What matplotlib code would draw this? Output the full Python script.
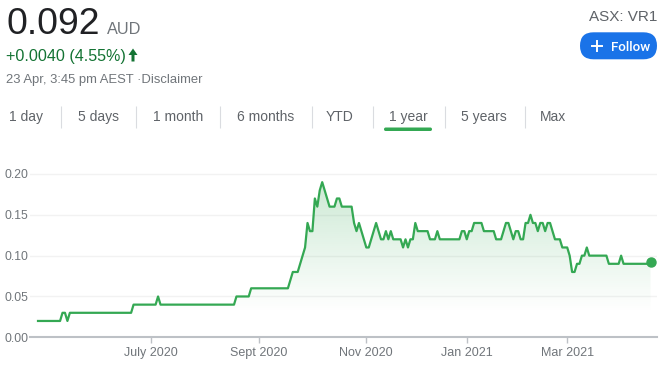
import numpy as np
import matplotlib.pyplot as plt
from matplotlib.colors import to_rgb
from matplotlib.patches import FancyBboxPatch, FancyArrow

plt.rcParams['font.family'] = ['Liberation Sans', 'DejaVu Sans']

# slotkoers per handelsdag (23 apr 2020 - 23 apr 2021)
prices = [
    # apr - jun 2020
    0.02, 0.02, 0.02, 0.02, 0.02, 0.02, 0.02, 0.02, 0.02, 0.02,
    0.03, 0.03, 0.02, 0.03,
    0.03, 0.03, 0.03, 0.03, 0.03, 0.03, 0.03, 0.03, 0.03, 0.03,
    0.03, 0.03, 0.03, 0.03, 0.03, 0.03, 0.03, 0.03, 0.03, 0.03,
    0.03, 0.03, 0.03, 0.03, 0.03,
    0.04, 0.04, 0.04, 0.04, 0.04, 0.04, 0.04, 0.04, 0.04, 0.04,
    0.05,
    # jul - aug 2020
    0.04, 0.04, 0.04, 0.04, 0.04, 0.04, 0.04, 0.04, 0.04, 0.04,
    0.04, 0.04, 0.04, 0.04, 0.04, 0.04, 0.04, 0.04, 0.04, 0.04,
    0.04, 0.04, 0.04, 0.04, 0.04, 0.04, 0.04, 0.04, 0.04, 0.04,
    0.04,
    0.05, 0.05, 0.05, 0.05, 0.05, 0.05,
    # sep - okt 2020
    0.06, 0.06, 0.06, 0.06, 0.06, 0.06, 0.06, 0.06, 0.06, 0.06,
    0.06, 0.06, 0.06, 0.06, 0.06, 0.06,
    0.07, 0.08, 0.08, 0.08,
    0.09, 0.10, 0.11, 0.14, 0.13, 0.13, 0.17, 0.16, 0.18, 0.19,
    0.18, 0.17, 0.16, 0.16, 0.16, 0.17, 0.17, 0.16, 0.16, 0.16,
    0.16, 0.16,
    0.14, 0.13, 0.14, 0.13, 0.12, 0.11, 0.11, 0.12, 0.13, 0.14,
    0.13, 0.12, 0.12, 0.13, 0.12, 0.13, 0.12, 0.12, 0.12, 0.12,
    # nov - dec 2020
    0.11, 0.12, 0.11, 0.12, 0.12, 0.14, 0.13, 0.13, 0.13, 0.13,
    0.13,
    0.12, 0.12, 0.12, 0.13, 0.12, 0.12, 0.12, 0.12, 0.12, 0.12,
    0.12, 0.12, 0.12,
    # jan - feb 2021
    0.13, 0.13, 0.12, 0.13, 0.13, 0.14, 0.14, 0.14, 0.14, 0.13,
    0.13, 0.13, 0.13, 0.13, 0.12, 0.12, 0.12,
    0.13, 0.14, 0.14, 0.13, 0.12, 0.13, 0.13, 0.12, 0.12, 0.14,
    0.14, 0.15, 0.14, 0.14, 0.13, 0.14, 0.14, 0.13, 0.14, 0.14,
    0.13, 0.12, 0.12, 0.12, 0.11, 0.11, 0.11,
    # mrt - apr 2021
    0.10, 0.08, 0.08, 0.09, 0.09, 0.10, 0.10, 0.11,
    0.10, 0.10, 0.10, 0.10, 0.10, 0.10, 0.10, 0.10,
    0.09, 0.09, 0.09, 0.09, 0.09, 0.10,
    0.09, 0.09, 0.09, 0.09, 0.09, 0.09, 0.09, 0.09, 0.09, 0.09,
    0.09, 0.092,
]

# handelsdag-index waar de maand begint
tick_pos = [46, 90, 134, 175, 216]
tick_labels = ['July 2020', 'Sept 2020', 'Nov 2020', 'Jan 2021', 'Mar 2021']
y_ticks = [0.00, 0.05, 0.10, 0.15, 0.20]

tabs = ['1 day', '5 days', '1 month', '6 months', 'YTD', '1 year', '5 years', 'Max']
tab_x = [26, 98, 178, 266, 340, 408, 484, 553]
sep_x = [61, 136, 220, 312, 373, 445, 525]

GREEN = '#34a853'
GREY = '#70757a'
W, H = 671, 366

fig = plt.figure(figsize=(W / 100, H / 100), dpi=100)

# achtergrond-assen in pixelcoordinaten voor de kop en de tabs
bg = fig.add_axes([0, 0, 1, 1])
bg.set_xlim(0, W)
bg.set_ylim(H, 0)
bg.axis('off')

bg.text(6, 34.3, '0.092', fontsize=26.8, color='#202124', va='baseline')
bg.text(107, 34.3, 'AUD', fontsize=11.7, color=GREY, va='baseline')
bg.text(6, 61, '+0.0040 (4.55%)', fontsize=11.6, color='#137333', va='baseline')
bg.add_patch(FancyArrow(133, 61.5, 0, -13, width=3, head_width=9, head_length=6.5,
                        length_includes_head=True, color='#137333', lw=0))
bg.text(6, 83.3, '23 Apr, 3:45 pm AEST \u00b7Disclaimer', fontsize=9.4, color=GREY,
        va='baseline')

bg.text(657, 21, 'ASX: VR1', fontsize=11, color='#5f6368', ha='right', va='baseline')
bg.add_patch(FancyBboxPatch((580, 32.3), 77, 27, boxstyle='round,pad=0,rounding_size=13.5',
                            fc='#1a73e8', ec='none'))
bg.plot([592, 602], [46.3, 46.3], color='white', lw=1.4)
bg.plot([597, 597], [41.3, 51.3], color='white', lw=1.4)
bg.text(611, 46.3, 'Follow', fontsize=9.6, color='white', family=['Roboto', 'DejaVu Sans'],
        fontweight='medium', va='center_baseline')

for label, cx in zip(tabs, tab_x):
    bg.text(cx, 117, label, fontsize=10, color='#5f6368', ha='center', va='center')
bg.vlines(sep_x, 106, 128, color='#dadce0', lw=0.8)
bg.add_patch(FancyBboxPatch((384, 127.5), 48, 3.5, boxstyle='round,pad=0,rounding_size=1.7',
                            fc=GREEN, ec='none'))

# koersgrafiek
ax = fig.add_axes([30 / W, (H - 337.3) / H, (657 - 30) / W, (337.3 - 169.9) / H])
ax.set_facecolor('none')

x = np.arange(len(prices))
ytop = 0.205

grad_y = np.linspace(0, ytop, 200)
rgba = np.zeros((200, 1, 4))
rgba[..., :3] = to_rgb(GREEN)
rgba[:, 0, 3] = np.clip((grad_y - 0.03) * 1.55, 0, 0.3)
im = ax.imshow(rgba, extent=[x[0], x[-1], 0, ytop], origin='lower', aspect='auto', zorder=1)
area = ax.fill_between(x, prices, 0, color='none', lw=0)
im.set_clip_path(area.get_paths()[0], transform=ax.transData)

ax.plot(x, prices, color=GREEN, lw=1.6, zorder=3)
ax.plot(x[-1], prices[-1], 'o', color=GREEN, ms=6.5, zorder=4)

ax.set_xlim(-3.27, 252.65)
ax.set_ylim(0, ytop)

ax.set_yticks(y_ticks)
ax.set_yticklabels([f'{v:.2f}' for v in y_ticks])
ax.set_xticks(tick_pos)
ax.set_xticklabels(tick_labels)
ax.tick_params(axis='y', length=0, pad=1, labelsize=8.7, labelcolor=GREY)
ax.tick_params(axis='x', length=4, width=1, color='#bdc1c6', labelsize=9,
               labelcolor=GREY, pad=3)
ax.grid(axis='y', color='#f2f2f2', lw=1)
ax.set_axisbelow(True)

for side in ['top', 'right', 'left']:
    ax.spines[side].set_visible(False)
ax.spines['bottom'].set_color('#bdc1c6')
ax.spines['bottom'].set_linewidth(1.5)

fig.savefig('out.png', dpi=100)
